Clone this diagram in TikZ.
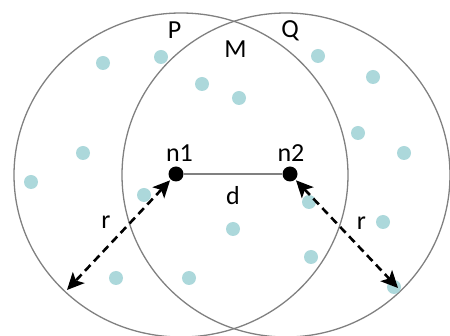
\documentclass[tikz,border=0pt]{standalone}
\usepackage{fontspec}
\setmainfont{Carlito}
\usetikzlibrary{arrows.meta}
\definecolor{rim}{RGB}{128,128,128}
\definecolor{pt}{RGB}{172,216,219}

\begin{document}
\begin{tikzpicture}[x=1pt,y=-1pt,
  lbl/.style={font=\fontsize{26}{26}\selectfont,inner sep=0pt},
  sdot/.style={circle,fill=pt,minimum size=14pt,inner sep=0pt},
  hub/.style={circle,fill=black,minimum size=15pt,inner sep=0pt},
  rng/.style={{Stealth[length=17pt,width=16pt,inset=4pt]}-{Stealth[length=17pt,width=16pt,inset=4pt]},
    black,line width=2.6pt,dash pattern=on 8pt off 5pt,shorten <=1pt}]
  \useasboundingbox (0,0) rectangle (450,336);
  % the two ranges P and Q
  \coordinate (cP) at (181,175); \coordinate (cQ) at (286,175);
  \draw[rim,line width=1.3pt] (cP) ellipse [x radius=167,y radius=162];
  \draw[rim,line width=1.3pt] (cQ) ellipse [x radius=164,y radius=162];
  % scattered sensors
  \node[sdot] (s1) at (103,63) {}; \node[sdot] (s2) at (161,57) {}; \node[sdot] (s3) at (202,84) {};
  \node[sdot] (s4) at (239,98) {}; \node[sdot] (s5) at (318,56) {}; \node[sdot] (s6) at (373,77) {};
  \node[sdot] (s7) at (358,133) {}; \node[sdot] (s8) at (404,153) {}; \node[sdot] (s9) at (83,153) {};
  \node[sdot] (s10) at (31,182) {}; \node[sdot] (s11) at (144,195) {}; \node[sdot] (s12) at (309,202) {};
  \node[sdot] (s13) at (233,229) {}; \node[sdot] (s14) at (383,222) {}; \node[sdot] (s15) at (311,257) {};
  \node[sdot] (s16) at (116,278) {}; \node[sdot] (s17) at (189,278) {}; \node[sdot] (s18) at (394,287) {};
  % the two nodes and their distance
  \node[hub] (n1) at (176,174) {}; \node[hub] (n2) at (290,174) {};
  \draw[rim,line width=1.3pt] (n1) -- (n2);
  \coordinate (rL) at (67,290); \coordinate (rR) at (398,288);
  \draw[rng] (n1) -- (rL);
  \draw[rng] (n2) -- (rR);
  % labels
  \node[lbl] (lP) at (174.5,30.5) {P};
  \node[lbl] (lM) at (235.5,49.5) {M};
  \node[lbl] (lQ) at (290,31) {Q};
  \node[lbl] (ln1) at (179.5,153) {n1};
  \node[lbl] (ln2) at (291,153) {n2};
  \node[lbl] (ld) at (233,196) {d};
  \node[lbl] (lrL) at (106,222) {r};
  \node[lbl] (lrR) at (361.5,223) {r};
\end{tikzpicture}
\end{document}
